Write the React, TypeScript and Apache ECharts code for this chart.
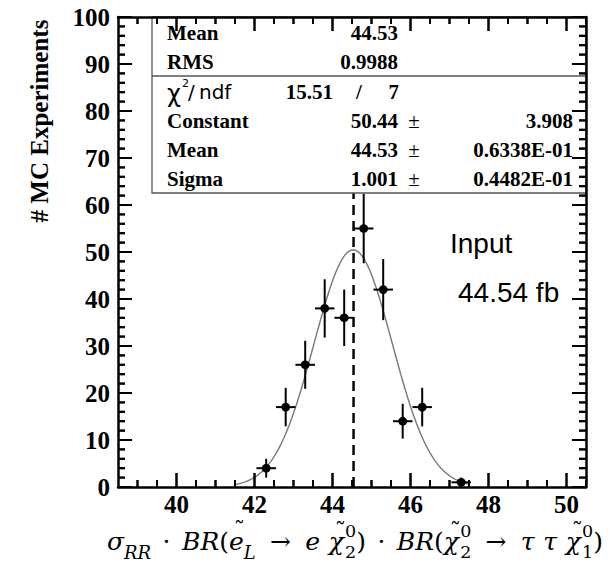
import React, { useEffect, useRef } from "react";
import * as echarts from "echarts";

// ---- data ----
const binCenters = [42.3, 42.8, 43.3, 43.8, 44.3, 44.8, 45.3, 45.8, 46.3, 47.3];
const counts = [4, 17, 26, 38, 36, 55, 42, 14, 17, 1];
const countErrors = [2, 4.1, 5.1, 6.2, 6.0, 7.4, 6.5, 3.7, 4.1, 1];
const binHalfWidth = 0.25;

const xMin = 38.5;
const xMax = 50.5;
const yMin = 0;
const yMax = 100;
const xTickLabels = [40, 42, 44, 46, 48, 50];
const xMinorTicks = [39, 39.5, 40.5, 41, 41.5, 42.5, 43, 43.5, 44.5, 45, 45.5, 46.5, 47, 47.5, 48.5, 49, 49.5, 50.5];
const yTickLabels = [0, 10, 20, 30, 40, 50, 60, 70, 80, 90, 100];
const yMinorTicks = [
  2, 4, 6, 8, 12, 14, 16, 18, 22, 24, 26, 28, 32, 34, 36, 38, 42, 44, 46, 48,
  52, 54, 56, 58, 62, 64, 66, 68, 72, 74, 76, 78, 82, 84, 86, 88, 92, 94, 96, 98,
];

const inputValue = 44.54;
const fitConstant = 50.44;
const fitMean = 44.53;
const fitSigma = 1.001;
const fitRange = [41.5, 47.5];

const statLabels = ["Mean", "RMS"];
const statValues = ["44.53", "0.9988"];
const chi2Value = "15.51";
const ndfValue = "7";
const fitLabels = ["Constant", "Mean", "Sigma"];
const fitValues = ["50.44", "44.53", "1.001"];
const fitErrors = ["3.908", "0.6338E-01", "0.4482E-01"];

const SERIF = '"Liberation Serif", "Times New Roman", serif';
const MATH = '"DejaVu Serif", "Liberation Serif", serif';
const SANS = '"Liberation Sans", Arial, sans-serif';
const DSANS = '"DejaVu Sans", sans-serif';

// layout of the plotting frame (pixels)
const GRID = { left: 118, right: 25, top: 17, bottom: 75 };
const W = 611;
const H = 562;

function txt(x: number, y: number, text: string, o: any = {}) {
  const align = o.align || "left";
  const va = o.va || "middle";
  return {
    type: "text",
    x,
    y,
    rotation: o.rotation || 0,
    z: o.z ?? 35,
    silent: true,
    style: {
      text,
      fontSize: o.size || 21,
      fontFamily: o.family || SERIF,
      fontWeight: o.weight || "normal",
      fontStyle: o.style || "normal",
      fill: o.color || "#000",
      textAlign: align,
      textVerticalAlign: va,
      align,
      verticalAlign: va,
    },
  };
}

export default function App() {
  const ref = useRef<HTMLDivElement>(null);

  useEffect(() => {
    const el = ref.current!;
    const chart = echarts.init(el, null, { renderer: "svg", width: W, height: H });

    // fit function curve (Gaussian with the fit parameters shown in the box)
    const fitCurve: number[][] = [];
    for (let x = fitRange[0]; x <= fitRange[1] + 1e-9; x += 0.02) {
      const u = (x - fitMean) / fitSigma;
      fitCurve.push([x, fitConstant * Math.exp(-0.5 * u * u)]);
    }

    // frame ticks (all pointing into the frame): [x, y, length, side]
    const MAJ = 14;
    const MIN = 7;
    const tickData: number[][] = [];
    xTickLabels.forEach((v) => {
      tickData.push([v, yMin, MAJ, 0]);
      tickData.push([v, yMax, MAJ, 1]);
    });
    xMinorTicks.forEach((v) => {
      tickData.push([v, yMin, MIN, 0]);
      tickData.push([v, yMax, MIN, 1]);
    });
    yTickLabels.forEach((v) => {
      tickData.push([xMin, v, MAJ, 2]);
      tickData.push([xMax, v, MAJ, 3]);
    });
    yMinorTicks.forEach((v) => {
      tickData.push([xMin, v, MIN, 2]);
      tickData.push([xMax, v, MIN, 3]);
    });

    // tick marks as graphic rects, mapped with the same linear scale as the grid
    const plotW = W - GRID.left - GRID.right;
    const plotH = H - GRID.top - GRID.bottom;
    const toPx = (vx: number, vy: number) => [
      GRID.left + ((vx - xMin) / (xMax - xMin)) * plotW,
      GRID.top + (1 - (vy - yMin) / (yMax - yMin)) * plotH,
    ];
    const TW = 2;
    const tickEls: any[] = [];
    for (const [vx, vy, len, side] of tickData) {
      const p = toPx(vx, vy);
      let shape;
      if (side === 0) shape = { x: p[0] - TW / 2, y: p[1] - len, width: TW, height: len };
      else if (side === 1) shape = { x: p[0] - TW / 2, y: p[1], width: TW, height: len };
      else if (side === 2) shape = { x: p[0], y: p[1] - TW / 2, width: len, height: TW };
      else shape = { x: p[0] - len, y: p[1] - TW / 2, width: len, height: TW };
      tickEls.push({ type: "rect", z: 40, silent: true, shape, style: { fill: "#000" } });
    }

    // ---- x axis title laid out as math text ----
    const ctx = document.createElement("canvas").getContext("2d")!;
    const measure = (t: string, size: number, italic: boolean) => {
      ctx.font = `${italic ? "italic " : ""}${size}px "DejaVu Serif"`;
      return ctx.measureText(t).width;
    };
    type Tok =
      | { t: string; s: number; it: boolean; dy: number; tilde?: boolean }
      | { stack: [string, string] }
      | { gap: number };
    const toks: Tok[] = [
      { t: "\u03C3", s: 1, it: true, dy: 0 },
      { t: "RR", s: 0.72, it: true, dy: 0.36 },
      { gap: 0.2 },
      { t: "\u00B7", s: 1, it: false, dy: 0 },
      { gap: 0.2 },
      { t: "BR", s: 1, it: true, dy: 0 },
      { t: "(", s: 1, it: false, dy: 0 },
      { t: "e", s: 1, it: true, dy: 0, tilde: true },
      { t: "L", s: 0.72, it: true, dy: 0.36 },
      { gap: 0.25 },
      { t: "\u2192", s: 1, it: false, dy: 0 },
      { gap: 0.25 },
      { t: "e", s: 1, it: true, dy: 0 },
      { gap: 0.15 },
      { t: "\u03C7", s: 1, it: true, dy: 0, tilde: true },
      { stack: ["0", "2"] },
      { t: ")", s: 1, it: false, dy: 0 },
      { gap: 0.2 },
      { t: "\u00B7", s: 1, it: false, dy: 0 },
      { gap: 0.2 },
      { t: "BR", s: 1, it: true, dy: 0 },
      { t: "(", s: 1, it: false, dy: 0 },
      { t: "\u03C7", s: 1, it: true, dy: 0, tilde: true },
      { stack: ["0", "2"] },
      { gap: 0.25 },
      { t: "\u2192", s: 1, it: false, dy: 0 },
      { gap: 0.25 },
      { t: "\u03C4", s: 1, it: true, dy: 0 },
      { gap: 0.15 },
      { t: "\u03C4", s: 1, it: true, dy: 0 },
      { gap: 0.15 },
      { t: "\u03C7", s: 1, it: true, dy: 0, tilde: true },
      { stack: ["0", "1"] },
      { t: ")", s: 1, it: false, dy: 0 },
    ];
    const SS = 0.7; // stacked script scale
    const M = 25;
    let glyphW = 0;
    let gapUnits = 0;
    for (const k of toks) {
      if ("gap" in k) gapUnits += k.gap;
      else if ("stack" in k)
        glyphW += Math.max(measure(k.stack[0], SS * M, false), measure(k.stack[1], SS * M, false)) + 0.05 * M;
      else glyphW += measure(k.t, k.s * M, k.it);
    }
    const titleStart = 107;
    const titleEnd = 603;
    const gapFactor = Math.max(1, Math.min(3, (titleEnd - titleStart - glyphW) / (gapUnits * M)));
    const baseline = 550;
    const central = (size: number, baseY: number) => baseY - 0.35 * size;
    const titleEls: any[] = [];
    let cx = titleStart;
    for (const k of toks) {
      if ("gap" in k) {
        cx += k.gap * M * gapFactor;
      } else if ("stack" in k) {
        const s = SS * M;
        titleEls.push(txt(cx + 0.05 * M, central(s, baseline - 0.5 * M), k.stack[0], { size: s, family: MATH }));
        titleEls.push(txt(cx + 0.05 * M, central(s, baseline + 0.33 * M), k.stack[1], { size: s, family: MATH }));
        cx += Math.max(measure(k.stack[0], s, false), measure(k.stack[1], s, false)) + 0.05 * M;
      } else {
        const s = k.s * M;
        const w = measure(k.t, s, k.it);
        titleEls.push(
          txt(cx, central(s, baseline + k.dy * M), k.t, { size: s, family: MATH, style: k.it ? "italic" : "normal" })
        );
        if (k.tilde) {
          const isChi = k.t !== "e";
          titleEls.push(
            txt(cx + w * 0.5 + (isChi ? 0.16 : 0.12) * M, baseline - (isChi ? 0.76 : 0.8) * M, "\u02DC", {
              size: 0.9 * M,
              family: MATH,
              align: "center",
            })
          );
        }
        cx += w;
      }
    }

    // ---- stats box ----
    const boxX = 152, boxY = 17, boxR = 586, boxB = 193, sepY = 76;
    const rowY = [33, 62, 92, 121, 150, 179];
    const labelX = 167, valueR = 398, pmX = 414, errR = 573;
    const statEls: any[] = [
      {
        type: "rect",
        z: 30,
        silent: true,
        shape: { x: boxX, y: boxY, width: boxR - boxX, height: boxB - boxY },
        style: { fill: "#fff", stroke: "#555", lineWidth: 1.3 },
      },
      {
        type: "line",
        z: 31,
        silent: true,
        shape: { x1: boxX, y1: sepY, x2: boxR, y2: sepY },
        style: { stroke: "#555", lineWidth: 1.3 },
      },
    ];
    statLabels.forEach((l, i) => {
      statEls.push(txt(labelX, rowY[i], l, { weight: "bold" }));
      statEls.push(txt(valueR, rowY[i], statValues[i], { weight: "bold", align: "right" }));
    });
    statEls.push(txt(labelX, rowY[2] + 2, "\u03C7", { family: DSANS, size: 24 }));
    statEls.push(txt(182, rowY[2] - 9, "2", { family: DSANS, size: 11 }));
    statEls.push(txt(188, rowY[2], "/", { family: DSANS, size: 20 }));
    statEls.push(txt(199, rowY[2], "ndf", { family: DSANS, size: 20 }));
    statEls.push(txt(333, rowY[2], chi2Value, { weight: "bold", align: "right" }));
    statEls.push(txt(359, rowY[2], "/", { weight: "bold", align: "center" }));
    statEls.push(txt(399, rowY[2], ndfValue, { weight: "bold", align: "right" }));
    fitLabels.forEach((l, i) => {
      const y = rowY[3 + i];
      statEls.push(txt(labelX, y, l, { weight: "bold" }));
      statEls.push(txt(valueR, y, fitValues[i], { weight: "bold", align: "right" }));
      statEls.push(txt(pmX, y, "\u00B1", { align: "center" }));
      statEls.push(txt(errR, y, fitErrors[i], { weight: "bold", align: "right" }));
    });

    const otherEls: any[] = [
      txt(39, 121, "# MC Experiments", { size: 25, weight: "bold", align: "center", rotation: Math.PI / 2 }),
      txt(450, 243, "Input", { family: SANS, size: 28 }),
      txt(458, 292, "44.54 fb", { family: SANS, size: 28 }),
    ];

    const axisLineStyle = { color: "#000", width: 2.5 };
    const labelStyle = { fontFamily: SERIF, fontSize: 25, fontWeight: "bold", color: "#000" };
    const xCommon = {
      type: "value",
      min: xMin,
      max: xMax,
      z: 50,
      splitLine: { show: false },
      axisTick: { show: false },
      minorTick: { show: false },
    };
    const yCommon = {
      type: "value",
      min: yMin,
      max: yMax,
      interval: 10,
      z: 50,
      splitLine: { show: false },
      axisTick: { show: false },
      minorTick: { show: false },
    };

    const option: any = {
      animation: false,
      backgroundColor: "#fff",
      grid: { ...GRID, containLabel: false, outerBoundsMode: "none" },
      xAxis: [
        {
          ...xCommon,
          position: "bottom",
          axisLine: { show: true, onZero: false, lineStyle: axisLineStyle },
          axisLabel: { show: true, customValues: xTickLabels, margin: 5, ...labelStyle },
        },
        {
          ...xCommon,
          position: "top",
          axisLine: { show: true, onZero: false, lineStyle: axisLineStyle },
          axisLabel: { show: false },
        },
      ],
      yAxis: [
        {
          ...yCommon,
          position: "left",
          axisLine: { show: true, onZero: false, lineStyle: axisLineStyle },
          axisLabel: { show: true, margin: 8, customValues: yTickLabels, ...labelStyle },
        },
        {
          ...yCommon,
          position: "right",
          axisLine: { show: true, onZero: false, lineStyle: axisLineStyle },
          axisLabel: { show: false },
        },
      ],
      series: [
        {
          type: "line",
          xAxisIndex: 0,
          yAxisIndex: 0,
          data: fitCurve,
          symbol: "none",
          showSymbol: false,
          lineStyle: { color: "#777", width: 1.4 },
          z: 2,
          silent: true,
        },
        {
          type: "line",
          xAxisIndex: 0,
          yAxisIndex: 0,
          data: [
            [inputValue, yMin],
            [inputValue, yMax],
          ],
          symbol: "none",
          showSymbol: false,
          lineStyle: { color: "#000", width: 2.5, type: [10, 6] },
          z: 3,
          silent: true,
        },
        {
          type: "custom",
          xAxisIndex: 0,
          yAxisIndex: 0,
          z: 4,
          silent: true,
          data: binCenters.map((x, i) => [x, counts[i], countErrors[i]]),
          encode: { x: 0, y: 1 },
          renderItem: (params: any, api: any) => {
            const x = api.value(0);
            const y = api.value(1);
            const e = api.value(2);
            const c = api.coord([x, y]);
            const l = api.coord([x - binHalfWidth, y]);
            const r = api.coord([x + binHalfWidth, y]);
            const t = api.coord([x, y + e]);
            const b = api.coord([x, Math.max(0, y - e)]);
            const st = { stroke: "#000", lineWidth: 2 };
            return {
              type: "group",
              children: [
                { type: "line", shape: { x1: l[0], y1: l[1], x2: r[0], y2: r[1] }, style: st },
                { type: "line", shape: { x1: t[0], y1: t[1], x2: b[0], y2: b[1] }, style: st },
                { type: "circle", shape: { cx: c[0], cy: c[1], r: 4.4 }, style: { fill: "#000" } },
              ],
            };
          },
        },
        {
          // frame tick marks through the axes' scales (same style as the error bars)
          type: "custom",
          xAxisIndex: 0,
          yAxisIndex: 0,
          z: 40,
          silent: true,
          data: tickData,
          encode: { x: 0, y: 1 },
          renderItem: (params: any, api: any) => {
            const p = api.coord([api.value(0), api.value(1)]);
            const len = api.value(2);
            const side = api.value(3);
            let dx = 0;
            let dy = 0;
            if (side === 0) dy = -len;
            else if (side === 1) dy = len;
            else if (side === 2) dx = len;
            else dx = -len;
            return {
              type: "group",
              children: [
                {
                  type: "line",
                  shape: { x1: p[0], y1: p[1], x2: p[0] + dx, y2: p[1] + dy },
                  style: { stroke: "#000", lineWidth: 2 },
                },
              ],
            };
          },
        },
      ],
      graphic: { elements: [...statEls, ...tickEls, ...otherEls, ...titleEls] },
    };

    chart.setOption(option);
    return () => chart.dispose();
  }, []);

  return (
    <div
      ref={ref}
      style={{ position: "fixed", left: 0, top: 0, width: W, height: H, background: "#fff" }}
    />
  );
}
